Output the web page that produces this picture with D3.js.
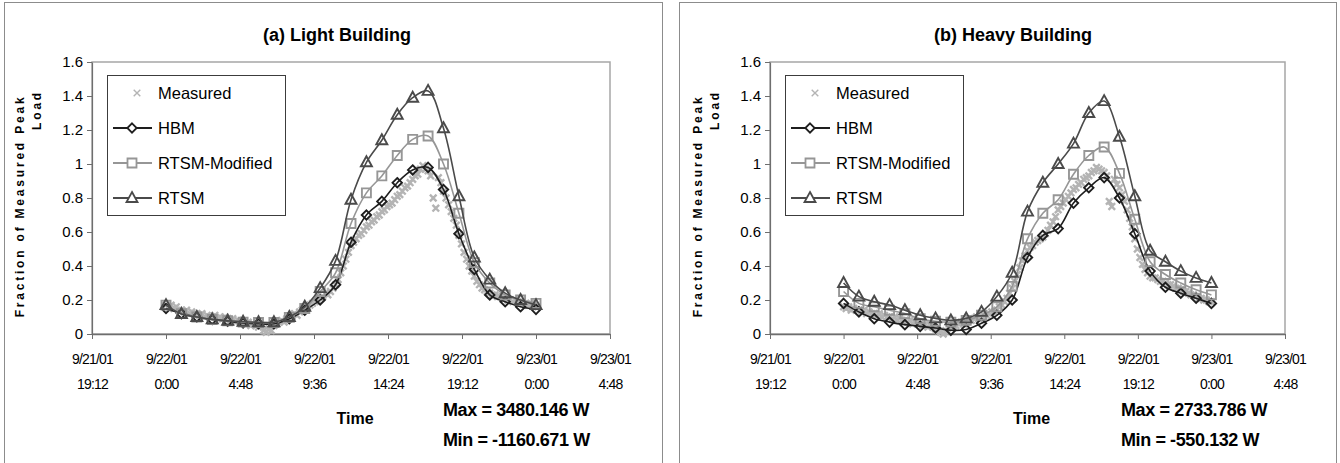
<!DOCTYPE html>
<html>
<head>
<meta charset="utf-8">
<script src="https://cdn.jsdelivr.net/npm/d3@7"></script>
<style>
  body { margin: 0; background: #fff; }
  text { font-family: "Liberation Sans", Arial, sans-serif; fill: #000; }
</style>
</head>
<body>
<div class="chart"></div>
<script>
// ---- data ----
// time axis tick labels (every 4.8 hours)
var tickDates = ["9/21/01", "9/22/01", "9/22/01", "9/22/01", "9/22/01", "9/22/01", "9/23/01", "9/23/01"];
var tickTimes = ["19:12", "0:00", "4:48", "9:36", "14:24", "19:12", "0:00", "4:48"];
var yTicks = [0, 0.2, 0.4, 0.6, 0.8, 1, 1.2, 1.4, 1.6];

var seriesNames = ["Measured", "HBM", "RTSM-Modified", "RTSM"];

// model output: hourly, 9/22 0:00 .. 9/23 0:00 (hours after midnight)
var modelHours = [0, 1, 2, 3, 4, 5, 6, 7, 8, 9, 10, 11, 12, 13, 14, 15, 16, 17, 18, 19, 20, 21, 22, 23, 24];
// measured: every 10 minutes over the same day
var measuredHours = d3.range(0, 24 * 6 + 1).map(i => i / 6);

// (a) light building
var lightMeasured = [
  0.17, 0.16, 0.17, 0.15, 0.16, 0.14,
  0.14, 0.13, 0.14, 0.12, 0.13, 0.12,
  0.12, 0.11, 0.12, 0.10, 0.11, 0.10,
  0.10, 0.11, 0.09, 0.10, 0.09, 0.10,
  0.09, 0.08, 0.09, 0.07, 0.08, 0.07,
  0.07, 0.06, 0.07, 0.05, 0.06, 0.05,
  0.04, 0.05, 0.02, 0.01, 0.03, 0.02,
  0.05, 0.06, 0.07, 0.08, 0.07, 0.09,
  0.09, 0.10, 0.12, 0.11, 0.13, 0.14,
  0.15, 0.16, 0.17, 0.18, 0.19, 0.20,
  0.21, 0.22, 0.24, 0.23, 0.25, 0.27,
  0.29, 0.32, 0.36, 0.40, 0.44, 0.48,
  0.52, 0.54, 0.56, 0.58, 0.59, 0.61,
  0.63, 0.64, 0.66, 0.67, 0.69, 0.70,
  0.72, 0.73, 0.75, 0.76, 0.77, 0.79,
  0.81, 0.82, 0.84, 0.86, 0.87, 0.89,
  0.91, 0.93, 0.94, 0.97, 0.99, 0.97,
  0.96, 0.93, 0.80, 0.74, 0.92, 0.89,
  0.84, 0.80, 0.76, 0.72, 0.68, 0.64,
  0.58, 0.53, 0.48, 0.44, 0.40, 0.37,
  0.34, 0.31, 0.29, 0.27, 0.26, 0.25,
  0.24, 0.23, 0.23, 0.22, 0.22, 0.21,
  0.21, 0.20, 0.20, 0.19, 0.20, 0.19,
  0.19, 0.18, 0.18, 0.17, 0.18, 0.17,
  0.16];
var lightHBM = [0.15, 0.12, 0.10, 0.085, 0.075, 0.065, 0.06, 0.06, 0.09, 0.14, 0.20, 0.29, 0.54,
  0.70, 0.78, 0.89, 0.965, 0.98, 0.85, 0.59, 0.38, 0.23, 0.19, 0.16, 0.145];
var lightRTSMMod = [0.17, 0.12, 0.10, 0.085, 0.078, 0.07, 0.068, 0.068, 0.098, 0.15, 0.25, 0.36, 0.65,
  0.83, 0.93, 1.05, 1.145, 1.165, 1.0, 0.71, 0.42, 0.30, 0.23, 0.20, 0.18];
var lightRTSM = [0.17, 0.118, 0.10, 0.086, 0.078, 0.072, 0.069, 0.069, 0.10, 0.16, 0.27, 0.43, 0.79,
  1.01, 1.14, 1.29, 1.39, 1.43, 1.21, 0.81, 0.45, 0.32, 0.24, 0.20, 0.17];

// (b) heavy building
var heavyMeasured = [
  0.16, 0.15, 0.16, 0.14, 0.15, 0.14,
  0.14, 0.13, 0.14, 0.12, 0.13, 0.12,
  0.12, 0.11, 0.12, 0.10, 0.11, 0.10,
  0.10, 0.09, 0.10, 0.08, 0.09, 0.08,
  0.08, 0.07, 0.08, 0.06, 0.07, 0.06,
  0.06, 0.05, 0.06, 0.04, 0.05, 0.04,
  0.03, 0.02, 0.01, 0.00, 0.02, 0.01,
  0.04, 0.05, 0.05, 0.06, 0.07, 0.06,
  0.07, 0.08, 0.08, 0.09, 0.10, 0.09,
  0.10, 0.11, 0.11, 0.12, 0.13, 0.13,
  0.14, 0.16, 0.17, 0.19, 0.21, 0.24,
  0.27, 0.31, 0.35, 0.39, 0.43, 0.46,
  0.49, 0.51, 0.52, 0.54, 0.55, 0.56,
  0.57, 0.59, 0.61, 0.64, 0.66, 0.69,
  0.73, 0.75, 0.77, 0.79, 0.81, 0.83,
  0.85, 0.86, 0.88, 0.89, 0.91, 0.92,
  0.93, 0.95, 0.96, 0.98, 0.97, 0.96,
  0.95, 0.93, 0.78, 0.75, 0.91, 0.88,
  0.86, 0.82, 0.78, 0.73, 0.68, 0.63,
  0.56, 0.50, 0.45, 0.41, 0.38, 0.36,
  0.34, 0.33, 0.33, 0.32, 0.31, 0.31,
  0.30, 0.29, 0.29, 0.28, 0.27, 0.27,
  0.26, 0.25, 0.25, 0.24, 0.23, 0.23,
  0.22, 0.21, 0.21, 0.20, 0.20, 0.19,
  0.19];
var heavyHBM = [0.18, 0.13, 0.09, 0.07, 0.055, 0.045, 0.035, 0.022, 0.027, 0.063, 0.11, 0.20, 0.45,
  0.58, 0.62, 0.77, 0.86, 0.92, 0.80, 0.59, 0.37, 0.275, 0.24, 0.21, 0.18];
var heavyRTSMMod = [0.25, 0.18, 0.16, 0.14, 0.12, 0.09, 0.075, 0.07, 0.08, 0.11, 0.16, 0.28, 0.56,
  0.71, 0.79, 0.94, 1.05, 1.10, 0.945, 0.675, 0.425, 0.35, 0.30, 0.26, 0.23];
var heavyRTSM = [0.30, 0.22, 0.19, 0.17, 0.14, 0.11, 0.092, 0.08, 0.092, 0.13, 0.22, 0.36, 0.72,
  0.89, 1.00, 1.12, 1.30, 1.37, 1.16, 0.81, 0.49, 0.425, 0.37, 0.33, 0.30];

// ---- layout ----
var svgWidth = 1340;
var svgHeight = 463;

var startTime = new Date(2001, 8, 21, 19, 12);
var endTime = new Date(2001, 8, 23, 4, 48);
var dayStart = new Date(2001, 8, 22, 0, 0);
var HOUR = 3600 * 1000;
function toDate(h) { return new Date(+dayStart + h * HOUR); }
var tickValues = tickDates.map((d, i) => new Date(+startTime + i * 4.8 * HOUR));

var svg = d3.select(".chart")
  .append("svg")
  .attr("width", svgWidth)
  .attr("height", svgHeight);

var styles = {
  "Measured": { color: "#b4b4b4", marker: "times" },
  "HBM": { color: "#1e1e1e", marker: "diamond" },
  "RTSM-Modified": { color: "#969696", marker: "square" },
  "RTSM": { color: "#4a4a4a", marker: "triangle" }
};

function markerPath(type) {
  if (type === "diamond") return "M0,-4.7L4.7,0L0,4.7L-4.7,0Z";
  if (type === "square") return "M-4.5,-4.5H4.5V4.5H-4.5Z";
  if (type === "triangle") return "M0,-6L5.5,4L-5.5,4Z";
  return "M-3.3,-3.3L3.3,3.3M-3.3,3.3L3.3,-3.3";
}

function drawPanel(p) {
  // outer chart frame
  svg.append("rect")
    .attr("x", p.panelX + 0.5).attr("y", 2.5)
    .attr("width", p.panelW).attr("height", 470)
    .attr("fill", "none").attr("stroke", "#8c8c8c");

  // title
  svg.append("text")
    .attr("x", p.titleX).attr("y", 41)
    .attr("text-anchor", "middle")
    .attr("font-size", "18px").attr("font-weight", "bold")
    .text(p.title);

  var chartGroup = svg.append("g")
    .attr("transform", `translate(${p.plotX}, ${p.plotY})`);

  var x = d3.scaleTime().domain([startTime, endTime]).range([0, p.plotW]);
  var y = d3.scaleLinear().domain([0, 1.6]).range([p.plotH, 0]);

  // plot area border (top / right gray)
  chartGroup.append("rect")
    .attr("width", p.plotW).attr("height", p.plotH)
    .attr("fill", "none").attr("stroke", "#a6a6a6").attr("stroke-width", 1.5);

  // y axis
  var yAxis = d3.axisLeft(y).tickValues(yTicks).tickSize(5).tickSizeOuter(0)
    .tickFormat(d3.format("~g"));
  var yg = chartGroup.append("g").call(yAxis);
  yg.select(".domain").attr("stroke", "#6e6e6e").attr("stroke-width", 1.2);
  yg.selectAll(".tick line").attr("stroke", "#6e6e6e");
  yg.selectAll(".tick text")
    .attr("font-size", "15px").attr("font-family", "Liberation Sans, Arial, sans-serif")
    .attr("fill", "#000").attr("x", -9);

  // x axis with two-line labels
  var xAxis = d3.axisBottom(x).tickValues(tickValues).tickSize(5).tickSizeOuter(0).tickFormat("");
  var xg = chartGroup.append("g")
    .attr("transform", `translate(0, ${p.plotH})`)
    .call(xAxis);
  xg.select(".domain").attr("stroke", "#6e6e6e").attr("stroke-width", 1.5);
  xg.selectAll(".tick line").attr("stroke", "#6e6e6e");
  xg.selectAll(".tick").each(function(d, i) {
    var t = d3.select(this).append("text")
      .attr("text-anchor", "middle")
      .attr("font-size", "14px").attr("letter-spacing", "-0.8px")
      .attr("font-family", "Liberation Sans, Arial, sans-serif")
      .attr("fill", "#000");
    t.append("tspan").attr("x", 0).attr("y", 30).text(tickDates[i]);
    t.append("tspan").attr("x", 0).attr("y", 55).text(tickTimes[i]);
  });

  // measured scatter
  chartGroup.append("g").selectAll("path")
    .data(p.measured)
    .enter()
    .append("path")
    .attr("transform", (d, i) => `translate(${x(toDate(measuredHours[i]))}, ${y(d)})`)
    .attr("d", markerPath("times"))
    .attr("fill", "none")
    .attr("stroke", styles["Measured"].color)
    .attr("stroke-width", 2.4);

  var line = d3.line()
    .x((d, i) => x(toDate(modelHours[i])))
    .y(d => y(d))
    .curve(d3.curveCatmullRom);

  p.models.forEach(function(m) {
    var st = styles[m.name];
    chartGroup.append("path")
      .datum(m.values)
      .attr("d", line)
      .attr("fill", "none")
      .attr("stroke", st.color)
      .attr("stroke-width", 1.6);
    chartGroup.append("g").selectAll("path")
      .data(m.values)
      .enter()
      .append("path")
      .attr("transform", (d, i) => `translate(${x(toDate(modelHours[i]))}, ${y(d)})`)
      .attr("d", markerPath(st.marker))
      .attr("fill", "none")
      .attr("stroke", st.color)
      .attr("stroke-width", 1.9);
  });

  // legend
  var lg = svg.append("g").attr("transform", `translate(${p.plotX + 15}, ${p.plotY + 13})`);
  lg.append("rect")
    .attr("x", 0.5).attr("y", 0.5)
    .attr("width", 178).attr("height", 140)
    .attr("fill", "#fff").attr("stroke", "#3c3c3c");
  seriesNames.forEach(function(name, i) {
    var st = styles[name];
    var ry = 18 + i * 35;
    if (name !== "Measured") {
      lg.append("line")
        .attr("x1", 6).attr("x2", 45).attr("y1", ry).attr("y2", ry)
        .attr("stroke", st.color).attr("stroke-width", 1.8);
    }
    lg.append("path")
      .attr("transform", `translate(${name === "Measured" ? 30 : 25}, ${ry})`)
      .attr("d", markerPath(st.marker))
      .attr("fill", name === "Measured" ? "none" : "#fff")
      .attr("stroke", st.color)
      .attr("stroke-width", name === "Measured" ? 1.4 : 1.8);
    lg.append("text")
      .attr("x", 51).attr("y", ry + 6)
      .attr("font-size", "16.5px")
      .text(name);
  });

  // axis titles
  svg.append("text")
    .attr("transform", `translate(${p.plotX - 68}, ${p.plotY + 144}) rotate(-90)`)
    .attr("text-anchor", "middle")
    .attr("font-size", "12px").attr("font-weight", "bold").attr("letter-spacing", "2.8px")
    .text("Fraction of Measured Peak");
  svg.append("text")
    .attr("transform", `translate(${p.plotX - 51}, ${p.plotY + 28}) rotate(-90)`)
    .attr("text-anchor", "end")
    .attr("font-size", "12px").attr("font-weight", "bold").attr("letter-spacing", "2.8px")
    .text("Load");

  svg.append("text")
    .attr("x", p.plotX + p.plotW / 2 + 4).attr("y", 424)
    .attr("text-anchor", "middle")
    .attr("font-size", "16px").attr("font-weight", "bold")
    .text("Time");

  svg.append("text")
    .attr("x", p.plotX + 351).attr("y", 416)
    .attr("font-size", "18px").attr("font-weight", "bold").attr("letter-spacing", "-0.4px")
    .text(p.maxText);
  svg.append("text")
    .attr("x", p.plotX + 351).attr("y", 446)
    .attr("font-size", "18px").attr("font-weight", "bold").attr("letter-spacing", "-0.4px")
    .text(p.minText);
}

drawPanel({
  panelX: 4, panelW: 658, plotX: 92, plotW: 518, plotY: 62, plotH: 272, titleX: 337,
  title: "(a) Light Building",
  measured: lightMeasured,
  models: [
    { name: "HBM", values: lightHBM },
    { name: "RTSM-Modified", values: lightRTSMMod },
    { name: "RTSM", values: lightRTSM }
  ],
  maxText: "Max = 3480.146 W",
  minText: "Min = -1160.671 W"
});

drawPanel({
  panelX: 679, panelW: 657, plotX: 770, plotW: 515, plotY: 62, plotH: 272, titleX: 1013,
  title: "(b) Heavy Building",
  measured: heavyMeasured,
  models: [
    { name: "HBM", values: heavyHBM },
    { name: "RTSM-Modified", values: heavyRTSMMod },
    { name: "RTSM", values: heavyRTSM }
  ],
  maxText: "Max = 2733.786 W",
  minText: "Min = -550.132 W"
});
</script>
</body>
</html>
